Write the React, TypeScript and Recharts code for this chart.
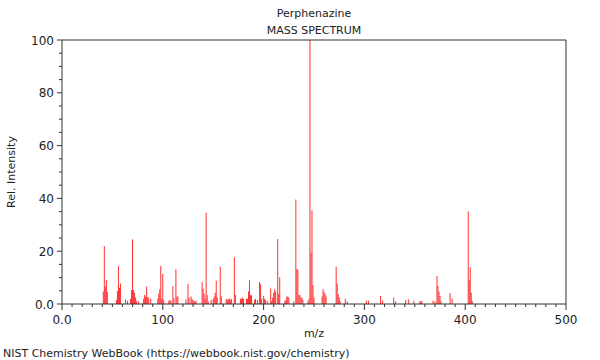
import React from 'react';
import { BarChart, Bar, XAxis, YAxis, ReferenceLine } from 'recharts';

// m/z values and relative intensities
const mzValues = [
  41, 42, 43, 44, 45,
  54, 55, 56, 57, 58,
  63, 65,
  68, 69, 70, 71, 72, 73, 74, 76,
  81, 82, 83, 84, 85, 86, 88,
  95, 96, 97, 98, 99, 100, 101,
  106, 107, 108,
  110, 111, 113, 114, 115,
  123, 125, 126, 128, 129, 130, 131, 132, 133,
  139, 140, 141, 142, 143, 144, 145,
  148, 150, 151, 152, 153, 154,
  157, 158,
  163, 164, 165, 166, 167, 168,
  171, 172,
  177, 178, 179, 180,
  183, 184, 185, 186, 187, 188,
  191, 192, 194,
  196, 197, 198,
  200, 201, 202, 204,
  207, 208,
  209, 210, 211, 212, 214, 215, 216,
  221, 222, 223, 224, 225,
  230,
  232, 233, 234, 235, 236, 237, 238, 239,
  244, 245, 246, 247, 248, 249, 250,
  258, 259, 260, 261, 262,
  272, 273, 274, 275, 276,
  281, 283,
  302, 304,
  316, 318,
  329, 331,
  341, 344, 349, 355, 356, 357,
  368, 370, 372, 373, 374, 375, 376,
  385, 387,
  403, 404, 405, 406, 407,
];

const intensities = [
  4.7, 22, 6.6, 9.1, 4.5,
  1.5, 4.9, 14.4, 6.2, 7.8,
  1.8, 1.2,
  2, 5.3, 24.5, 5.3, 4.3, 2.5, 1, 1,
  2, 3.4, 2.8, 6.6, 2.5, 2.5, 2,
  2, 4, 5.6, 14.4, 2, 11.4, 1.5,
  1.2, 1.5, 1.2,
  6.8, 2.1, 13.2, 2.8, 2.8,
  1.8, 7.6, 2.5, 2.8, 2, 1.5, 1, 1, 1,
  8.3, 5.9, 4, 2, 34.6, 3.4, 1,
  1.5, 2, 2.8, 4.3, 8.8, 2.5,
  14.1, 2.8,
  2, 1.5, 2, 2, 1.5, 2,
  17.7, 3.4,
  2, 2, 2.5, 2,
  2, 2, 4.7, 9, 3.3, 3.3,
  1.5, 2, 1.5,
  8.3, 7.6, 2,
  3.1, 2, 1.5, 1,
  5.9, 1,
  2.5, 4.3, 5.6, 4.7, 24.6, 3.8, 10.1,
  1, 1.5, 2.8, 2.8, 2.5,
  1,
  39.6, 13.3, 13, 3.4, 3.4, 2.5, 2.5, 1.5,
  1, 2, 100, 19.4, 35.5, 7.2, 2.5,
  2.8, 5.7, 4.5, 3.8, 2.8,
  14.1, 7.8, 3.8, 2.5, 1,
  2, 1,
  1.2, 1.2,
  3, 1.2,
  2.5, 1,
  1.5, 1.8, 1.2, 1, 1, 1,
  1.2, 1, 10.6, 6.8, 4.7, 3, 1,
  4.2, 2,
  35.1, 9.1, 13.9, 4.3, 1,
];

const xTicks = Array.from({ length: 51 }, (_, i) => i * 10);
const yTicks = Array.from({ length: 21 }, (_, i) => i * 5);

const data = mzValues.map((mz, i) => ({ mz, value: intensities[i] }));

const FONT = '"DejaVu Sans", sans-serif';
const AXIS = '#333';

const XTick = ({ x, y, payload }: any) => {
  const major = payload.value % 100 === 0;
  return (
    <g>
      <line x1={x} x2={x} y1={y} y2={y + (major ? 6 : 3)} stroke={AXIS} />
      {major && (
        <text x={x} y={y + 20} textAnchor="middle" fontSize={12} fontFamily={FONT} fill="#222">
          {payload.value === 0 ? '0.0' : payload.value}
        </text>
      )}
    </g>
  );
};

const YTick = ({ x, y, payload }: any) => {
  const major = payload.value % 20 === 0;
  return (
    <g>
      <line x1={x - (major ? 5 : 3)} x2={x} y1={y} y2={y} stroke={AXIS} />
      {major && (
        <text x={x - 8} y={y + 4.5} textAnchor="end" fontSize={12} fontFamily={FONT} fill="#222">
          {payload.value === 0 ? '0.0' : payload.value}
        </text>
      )}
    </g>
  );
};

const label: React.CSSProperties = {
  position: 'absolute',
  fontSize: 11,
  lineHeight: '14px',
  height: 14,
  color: '#222',
  whiteSpace: 'nowrap',
};

export default function App() {
  return (
    <div style={{ position: 'absolute', left: 0, top: 0, width: 600, height: 360, fontFamily: FONT, background: '#fff' }}>
      <BarChart width={600} height={360} data={data} margin={{ top: 40, right: 34, bottom: 26, left: 2 }}>
        <XAxis
          dataKey="mz"
          type="number"
          domain={[0, 500]}
          ticks={xTicks}
          interval={0}
          tickSize={0}
          tickMargin={0}
          tickLine={false}
          tick={<XTick />}
          axisLine={{ stroke: AXIS }}
          height={30}
        />
        <YAxis
          type="number"
          domain={[0, 100]}
          ticks={yTicks}
          interval={0}
          tickSize={0}
          tickMargin={0}
          tickLine={false}
          tick={<YTick />}
          axisLine={{ stroke: AXIS }}
          width={60}
        />
        <ReferenceLine y={100} stroke={AXIS} />
        <ReferenceLine x={500} stroke={AXIS} />
        <Bar dataKey="value" fill="#ff3030" barSize={1} isAnimationActive={false} />
      </BarChart>
      <div style={{ ...label, left: 62, width: 504, top: 7, textAlign: 'center' }}>Perphenazine</div>
      <div style={{ ...label, left: 62, width: 504, top: 24, textAlign: 'center' }}>MASS SPECTRUM</div>
      <div style={{ ...label, left: 62, width: 504, top: 327, textAlign: 'center' }}>m/z</div>
      <div style={{ ...label, left: 3, top: 347 }}>NIST Chemistry WebBook (https://webbook.nist.gov/chemistry)</div>
      <div
        style={{
          ...label,
          left: 12,
          top: 172,
          transform: 'translate(-50%, -50%) rotate(-90deg)',
        }}
      >
        Rel. Intensity
      </div>
    </div>
  );
}
